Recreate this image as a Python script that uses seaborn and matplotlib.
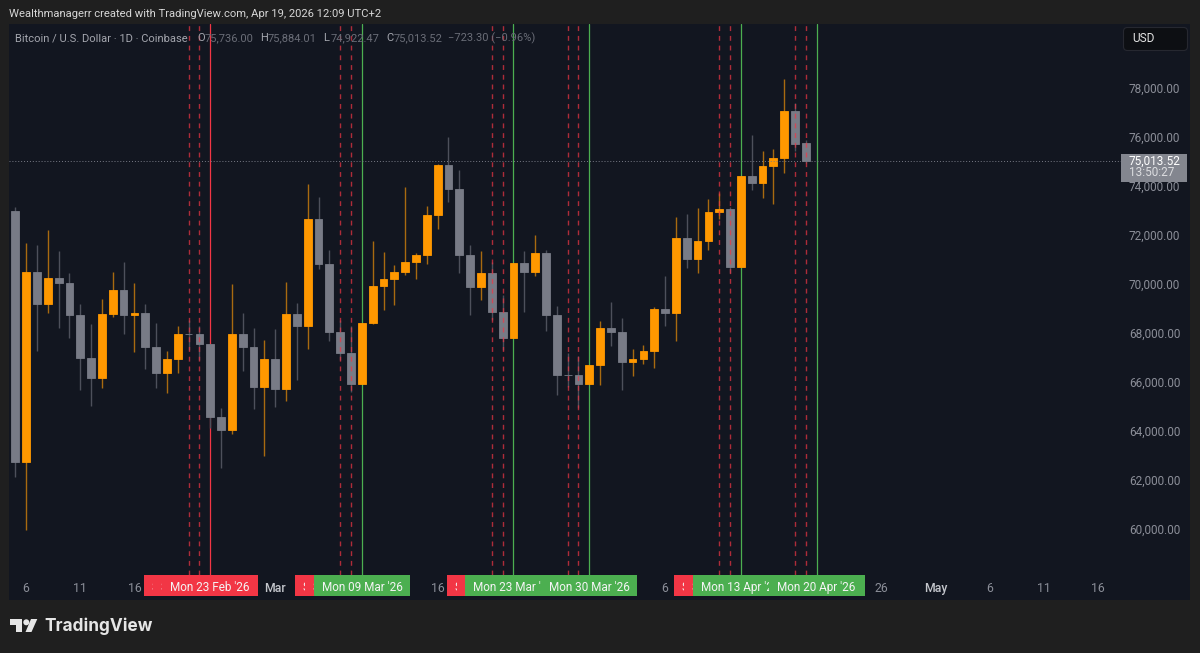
"""BTC/USD daily candles with weekend and Monday markers, TradingView dark look."""
import matplotlib

matplotlib.use("Agg")
import matplotlib.pyplot as plt
import pandas as pd
import seaborn as sns
from matplotlib.patches import FancyBboxPatch, Polygon, Rectangle, Circle

# candles start on 5 Feb 2026, one per day
opens = [72967, 62735, 70490, 69196, 70257, 70053, 68747, 66967, 66151, 68763,
         69743, 68735, 68816, 67416, 66380, 66927, 67959, 67947, 67563, 64584,
         64029, 67959, 67441, 65808, 66927, 65714, 68788, 68286, 72653, 70829,
         68053, 67196, 65918, 68388, 69931, 70192, 70502, 70898, 71196, 72804,
         74857, 73890, 71196, 69890, 70461, 68869, 67796, 70845, 70502, 71265,
         68723, 66298, 66286, 65906, 66682, 68192, 68053, 66829, 66927, 67253,
         68967, 68804, 71878, 71033, 71767, 72951, 73049, 70706, 74408, 74122,
         74804, 75131, 77061, 75736.00]
closes = [62735, 70490, 69196, 70257, 70053, 68747, 66967, 66151, 68763, 69743,
          68735, 68816, 67416, 66380, 66927, 67959, 67947, 67563, 64584, 64029,
          67959, 67441, 65808, 66927, 65714, 68788, 68286, 72653, 70829, 68053,
          67196, 65918, 68388, 69931, 70192, 70502, 70898, 71196, 72804, 74857,
          73890, 71196, 69890, 70461, 68869, 67796, 70845, 70502, 71265, 68723,
          66298, 66286, 65906, 66682, 68192, 68053, 66829, 66927, 67253, 68967,
          68804, 71878, 71033, 71767, 72951, 73049, 70706, 74408, 74122, 74804,
          75131, 77061, 75702, 75013.52]
highs = [73155, 71686, 71604, 72204, 71359, 70437, 69196, 68355, 69400, 70502,
         70898, 70053, 69172, 68408, 67253, 68273, 68531, 68298, 67570, 64951,
         69988, 68816, 68192, 67727, 68151, 70082, 69225, 74069, 73551, 71376,
         68531, 68286, 68400, 71767, 71318, 70776, 73947, 71278, 73184, 74886,
         76012, 74653, 71580, 71347, 70910, 69551, 70860, 71347, 72000, 71376,
         69090, 67172, 67061, 66700, 68490, 69253, 68600, 67347, 67510, 69074,
         70339, 72723, 72845, 73114, 73457, 73702, 73155, 74420, 76094, 75416,
         75510, 78367, 77376, 75884.01]
lows = [62135, 59959, 67253, 68804, 68192, 67808, 65661, 65021, 65768, 68653,
        67972, 67212, 66531, 65768, 65563, 66380, 67306, 66898, 64123, 62502,
        63878, 66449, 64898, 62980, 64980, 65212, 66094, 67359, 70612, 67686,
        66898, 65604, 65900, 68380, 68951, 69143, 70367, 70204, 70829, 72245,
        73359, 70437, 68735, 69335, 68531, 67306, 67780, 68869, 70327, 68082,
        65469, 65808, 64927, 65900, 65878, 67482, 65674, 66245, 66735, 66559,
        68298, 67674, 70653, 70437, 71388, 72641, 70449, 70690, 73825, 73510,
        73278, 74518, 75429, 74922.47]

last_price = 75013.52
price_ticks = [60000, 62000, 64000, 66000, 68000, 70000, 72000, 74000, 76000, 78000]

date_tick_idx = [1, 6, 11, 24, 39, 60, 80, 85, 90, 95, 100]
date_tick_labels = ["6", "11", "16", "Mar", "16", "6", "26", "May", "6", "11", "16"]

weekend_idx = [16, 17, 30, 31, 44, 45, 51, 52, 65, 66, 72, 73]
weekend_labels = ["Sat 21 Feb '26", "Sun 22 Feb '26", "Sat 07 Mar '26", "Sun 08 Mar '26",
                  "Sat 21 Mar '26", "Sun 22 Mar '26", "Sat 28 Mar '26", "Sun 29 Mar '26",
                  "Sat 11 Apr '26", "Sun 12 Apr '26", "Sat 18 Apr '26", "Sun 19 Apr '26"]
monday_idx = [18, 32, 46, 53, 67, 74]
monday_labels = ["Mon 23 Feb '26", "Mon 09 Mar '26", "Mon 23 Mar '26",
                 "Mon 30 Mar '26", "Mon 13 Apr '26", "Mon 20 Apr '26"]
monday_colors = ["#F23645", "#4CAF50", "#4CAF50", "#4CAF50", "#4CAF50", "#4CAF50"]

BG = "#1f1f1f"
PANEL = "#121620"
ORANGE = "#FF9800"
GREY = "#787B86"
RED = "#F23645"
TEXT = "#8b8e98"
DIM = "#6a6d77"
FONT = "Roboto"

sns.set_theme(style="dark", rc={"axes.facecolor": PANEL, "figure.facecolor": BG})
plt.rcParams["font.family"] = [FONT, "DejaVu Sans"]

candles = pd.DataFrame({"idx": range(len(opens)), "open": opens, "close": closes,
                        "high": highs, "low": lows})
candles["up"] = candles["close"] > candles["open"]
wicks = candles.melt(id_vars=["idx", "up"], value_vars=["high", "low"], value_name="price")

fig = plt.figure(figsize=(12, 6.53), dpi=100)
ax = fig.add_axes([9 / 1200, 53 / 653, 1181 / 1200, 576 / 653])

# weekday lines behind the candles, weekend dashes on top
line_floor = 25 / 576
for idx, color in zip(monday_idx, monday_colors):
    ax.axvline(idx, ymin=line_floor, color=color, lw=0.9, zorder=1)

sns.lineplot(data=wicks, x="idx", y="price", units="idx", estimator=None, hue="up",
             palette={True: "#a86a10", False: "#4d505b"}, legend=False, lw=1.0,
             solid_capstyle="butt", ax=ax, zorder=2)

ax.bar(candles["idx"], (candles["close"] - candles["open"]).abs(),
       bottom=candles[["open", "close"]].min(axis=1), width=0.72,
       color=candles["up"].map({True: ORANGE, False: GREY}),
       edgecolor=candles["up"].map({True: ORANGE, False: GREY}), lw=0.6, zorder=3)

for idx in weekend_idx:
    ax.axvline(idx, ymin=line_floor, color=RED, lw=1.0, alpha=0.7,
               dashes=(3.5, 3.5), zorder=4)

ax.axhline(last_price, xmax=1112 / 1181, color=GREY, lw=0.7, ls=(0, (1, 2)), zorder=4)

ax.set_xlim(-0.582, 108.47)
ax.set_ylim(57102, 80612)
ax.yaxis.tick_right()
ax.set_yticks(price_ticks, [f"{p:,.2f}" for p in price_ticks])
ax.set_xticks(date_tick_idx, date_tick_labels)
ax.tick_params(axis="y", direction="in", length=0, pad=-44, labelsize=8.5, labelcolor=TEXT)
ax.tick_params(axis="x", direction="in", length=0, pad=-13, labelsize=8.8, labelcolor=TEXT)
for tick, name in zip(ax.get_xticklabels(), date_tick_labels):
    if not name.isdigit():
        tick.set_color("#c4c6cc")
        tick.set_fontweight("medium")
ax.set_xlabel("")
ax.set_ylabel("")
ax.grid(False)
for spine in ax.spines.values():
    spine.set_visible(False)


def badge(idx, label, color, width_px, z):
    # later badges sit on top and cut off the text of earlier ones
    width = width_px / 10.83
    left = idx - width / 2
    ax.add_patch(Rectangle((left, 4 / 576), width, 21 / 576, facecolor=color,
                           edgecolor="none", zorder=z, clip_on=False,
                           transform=ax.get_xaxis_transform()))
    ax.text(left + 8 / 10.83, 12.5 / 576, label, color="#f4f4f4", fontsize=8.5, ha="left",
            va="center", zorder=z + 0.5, clip_on=False, transform=ax.get_xaxis_transform())


z = 10
for idx, label in zip(weekend_idx, weekend_labels):
    badge(idx, label, RED, 90 if label.startswith("Sat") else 92, z)
    z += 1
for idx, label, color in zip(monday_idx, monday_labels, monday_colors):
    badge(idx, label, color, 96, z)
    z += 1

# page furniture, laid out in pixels
top = fig.add_axes([0, 0, 1, 1], facecolor="none")
top.set_xlim(0, 1200)
top.set_ylim(653, 0)
top.axis("off")

top.text(9, 14, "Wealthmanagerr created with TradingView.com, Apr 19, 2026 12:09 UTC+2",
         color="#d6d6d6", fontsize=8.15, va="center")
top.text(15, 38, "Bitcoin / U.S. Dollar · 1D · Coinbase", color="#a4a6ae", fontsize=8, va="center")
for x, key, value in [(197, "O", "75,736.00"), (260, "H", "75,884.01"), (323, "L", "74,922.47"),
                      (386, "C", "75,013.52")]:
    top.text(x, 38, key, color="#a4a6ae", fontsize=8, va="center")
    top.text(x + 8, 38, value, color=DIM, fontsize=8, va="center")
top.text(448, 38, "−723.30 (−0.96%)", color=DIM, fontsize=8, va="center")

top.add_patch(FancyBboxPatch((1125, 29), 61, 20, boxstyle="round,pad=1.5,rounding_size=4",
                             facecolor="#0d0f13", edgecolor="#262830", lw=0.8))
top.text(1132, 39, "USD", color="#e2e2e2", fontsize=8.6, va="center")

top.add_patch(Rectangle((1121, 154), 66, 27.5, facecolor="#83868f", edgecolor="none"))
top.text(1129, 161, "75,013.52", color="#ffffff", fontsize=8.5, va="center")
top.text(1129, 173, "13:50:27", color="#dcdde0", fontsize=8.5, va="center")

logo = "#e6e6e6"
top.add_patch(Polygon([(10, 619), (22, 619), (22, 632), (16, 632), (16, 625), (10, 625)],
                      facecolor=logo, edgecolor="none"))
top.add_patch(Circle((26.3, 622.3), 3, facecolor=logo, edgecolor="none"))
top.add_patch(Polygon([(31, 619), (37.3, 619), (31.5, 632), (25.5, 632)],
                      facecolor=logo, edgecolor="none"))
top.text(44, 626, "TradingView", color=logo, fontsize=12.4, fontweight="bold", va="center",
         family=["Inter", "DejaVu Sans"])

fig.savefig("out.png", dpi=100, facecolor=BG)
plt.close(fig)
